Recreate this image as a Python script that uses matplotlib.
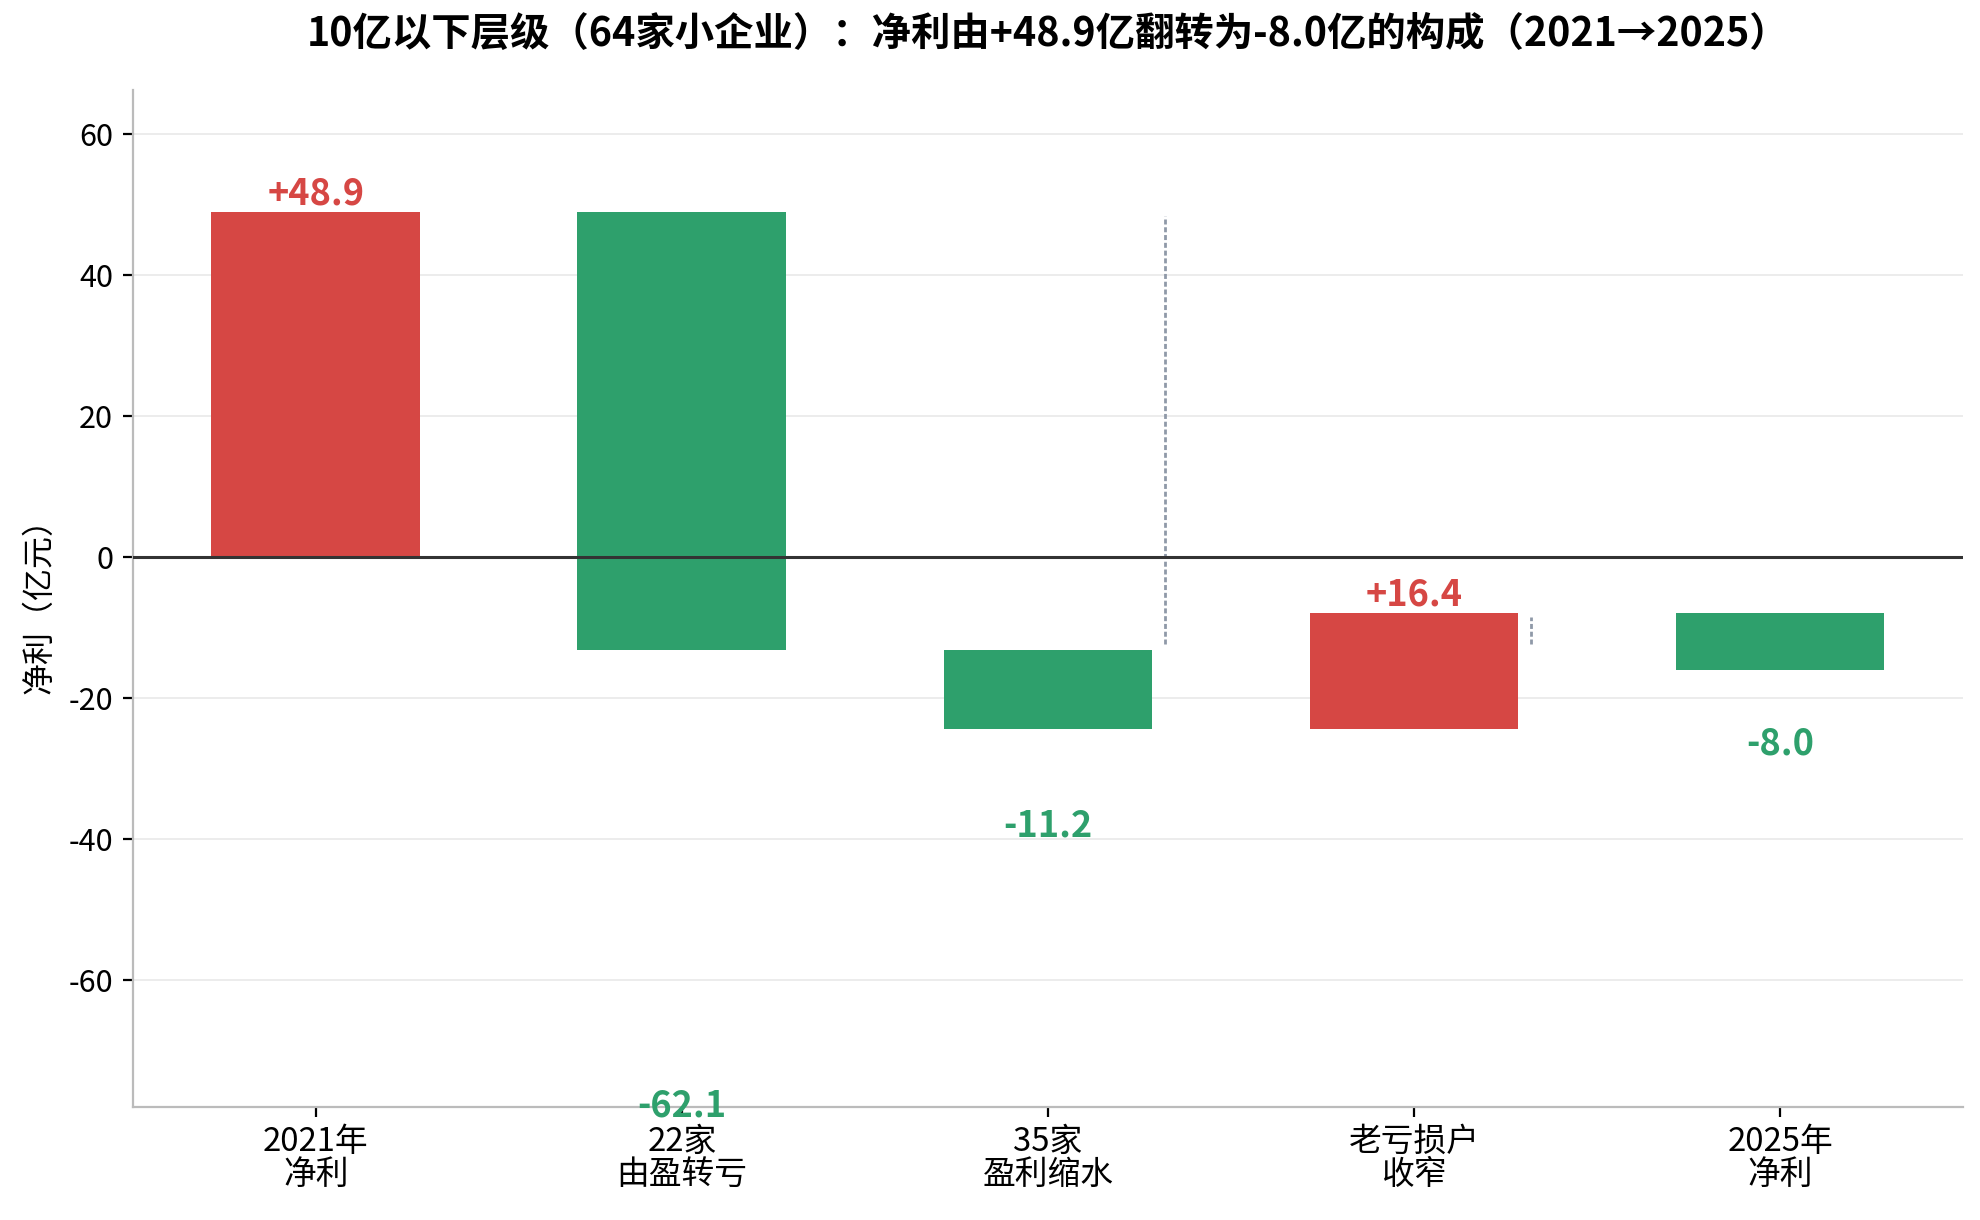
import matplotlib
matplotlib.use('Agg')
import matplotlib.pyplot as plt

plt.rcParams['font.family'] = ['Noto Sans CJK SC', 'DejaVu Sans']
plt.rcParams['axes.unicode_minus'] = False

# 数据（亿元）
categories = ['2021年\n净利', '22家\n由盈转亏', '35家\n盈利缩水', '老亏损户\n收窄', '2025年\n净利']
values = [48.9, -62.1, -11.2, 16.4, -8.0]
labels = ['+48.9', '-62.1', '-11.2', '+16.4', '-8.0']
# 虚线连接线的上下端
connector_ranges = [(48.3, -12.3), (-8.6, -12.3)]
connector_after = [2, 3]

RED = '#d64744'
GREEN = '#2ea06c'
BAR_W = 0.57

fig, ax = plt.subplots(figsize=(9.9, 6.1), dpi=200)
fig.subplots_adjust(left=0.067, right=0.9915, top=0.926, bottom=0.093)

running = 0.0
for i, v in enumerate(values):
    bottom = running
    color = RED if v > 0 else GREEN
    ax.bar(i, v, bottom=bottom, width=BAR_W, color=color, zorder=3)
    end = bottom + v
    if v > 0:
        ax.text(i, end, labels[i], ha='center', va='bottom', color=color,
                fontsize=13, fontweight='bold', zorder=4)
    else:
        ax.text(i, end + v, labels[i], ha='center', va='top', color=color,
                fontsize=13, fontweight='bold', zorder=4)
    if i < len(values) - 1:
        running = end

# 连接虚线
for i, (y0, y1) in zip(connector_after, connector_ranges):
    x = i + BAR_W / 2 + 0.035
    ax.plot([x, x], [y1, y0], color='#8f99a8', lw=1.0,
            linestyle=(0, (1.8, 1.0)), zorder=2)

ax.axhline(0, color='#333333', lw=1.1, zorder=4)

ax.set_xlim(-0.5, 4.5)
ax.set_ylim(-78, 66.2)
ax.set_yticks([-60, -40, -20, 0, 20, 40, 60])
ax.set_xticks(range(len(categories)))
ax.set_xticklabels(categories, fontsize=11.8, linespacing=1.05)
ax.tick_params(axis='y', labelsize=11)
ax.yaxis.grid(True, color='#ececec', lw=0.7, zorder=0)
ax.set_axisbelow(True)

for s in ['top', 'right']:
    ax.spines[s].set_visible(False)
for s in ['left', 'bottom']:
    ax.spines[s].set_color('#bbbbbb')
    ax.spines[s].set_linewidth(0.8)

ax.set_ylabel('净利（亿元）', fontsize=11.5)
ax.yaxis.set_label_coords(-0.042, 0.5)
ax.set_title('10亿以下层级（64家小企业）：净利由+48.9亿翻转为-8.0亿的构成（2021→2025）',
             fontsize=14.2, fontweight='bold', pad=16)

fig.savefig('out.png', dpi=200)
